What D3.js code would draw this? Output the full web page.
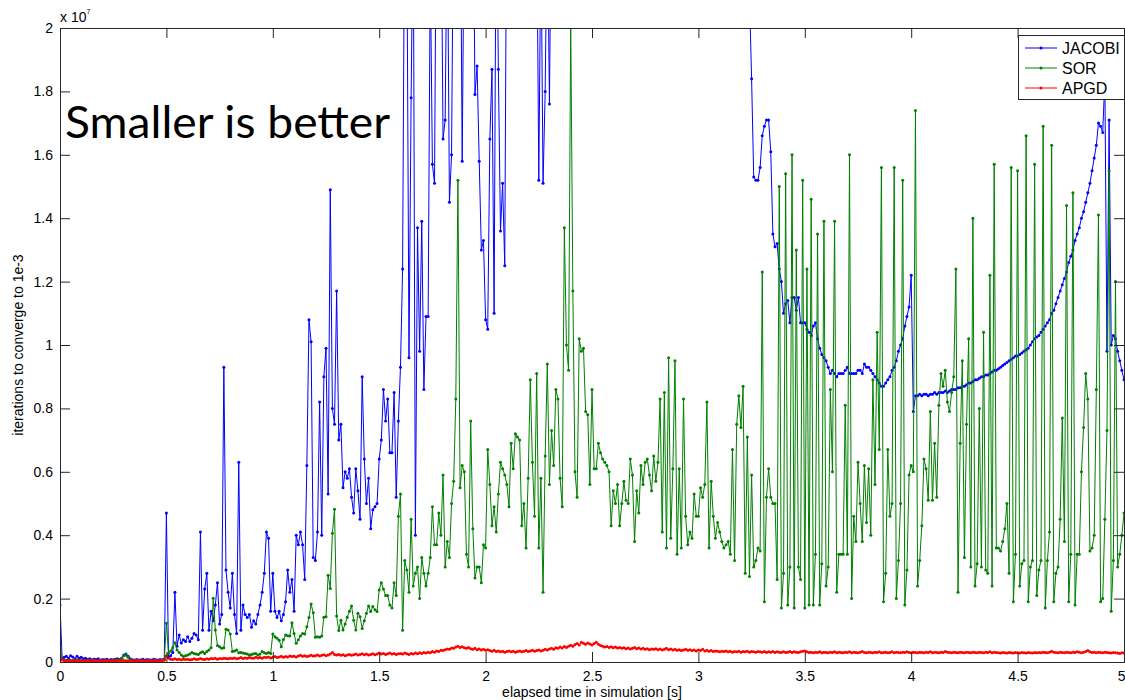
<!DOCTYPE html>
<html lang="en">
<head>
<meta charset="utf-8">
<script src="https://cdn.jsdelivr.net/npm/d3@7"></script>
<style>
  body { margin: 0; background: #fff; }
  svg { display: block; }
  .axis text { font-family: "Liberation Sans", Arial, sans-serif; font-size: 14px; fill: #000; }
  .axis path, .axis line { stroke: #262626; }
</style>
</head>
<body>
<div id="chart"></div>
<script>
// time step between samples (seconds), values in units of 1e-7
const dt = 0.01

const seriesNames = ['JACOBI', 'SOR', 'APGD']
const seriesColors = ['#0000ff', '#008000', '#ff0000']

const xTicks = [0, 0.5, 1, 1.5, 2, 2.5, 3, 3.5, 4, 4.5, 5]
const yTicks = [0, 0.2, 0.4, 0.6, 0.8, 1, 1.2, 1.4, 1.6, 1.8, 2]

const jacobi = [
  0.18, 0.01, 0.015, 0.018, 0.012, 0.02, 0.016, 0.01, 0.018, 0.012,
  0.015, 0.01, 0.012, 0.008, 0.01, 0.007, 0.009, 0.008, 0.01, 0.006,
  0.008, 0.007, 0.009, 0.006, 0.008, 0.007, 0.009, 0.01, 0.008, 0.012,
  0.022, 0.025, 0.018, 0.01, 0.007, 0.006, 0.008, 0.006, 0.007, 0.009,
  0.006, 0.008, 0.007, 0.006, 0.009, 0.007, 0.006, 0.008, 0.007, 0.009,
  0.47, 0.015, 0.02, 0.03, 0.22, 0.05, 0.085, 0.06, 0.07, 0.065,
  0.08, 0.065, 0.075, 0.09, 0.085, 0.07, 0.41, 0.10, 0.23, 0.28,
  0.10, 0.16, 0.13, 0.18, 0.25, 0.12, 0.15, 0.93, 0.29, 0.22,
  0.17, 0.28, 0.15, 0.09, 0.63, 0.10, 0.18, 0.15, 0.14, 0.15,
  0.11, 0.13, 0.12, 0.15, 0.18, 0.22, 0.28, 0.41, 0.39, 0.16,
  0.28, 0.16, 0.14, 0.16, 0.13, 0.15, 0.19, 0.29, 0.22, 0.26,
  0.16, 0.40, 0.37, 0.41, 0.37, 0.26, 0.62, 1.08, 1.01, 0.33,
  0.32, 0.41, 0.82, 0.40, 0.90, 0.99, 0.53, 1.49, 0.80, 0.75,
  1.17, 0.70, 0.75, 0.55, 0.60, 0.58, 0.61, 0.52, 0.47, 0.61,
  0.54, 0.45, 0.90, 0.64, 0.50, 0.58, 0.42, 0.48, 0.49, 0.50,
  0.64, 0.70, 0.86, 0.76, 0.83, 0.66, 0.66, 0.85, 0.52, 0.76,
  0.93, 1.24, 2.5, 2.3, 0.96, 1.78, 2.4, 0.40, 1.37, 0.98,
  1.39, 0.86, 1.09, 1.09, 2.2, 1.57, 1.51, 2.6, 2.3, 2.5,
  1.65, 1.71, 2.4, 1.45, 1.60, 2.5, 2.7, 2.3, 2.6, 1.58,
  2.4, 2.7, 2.5, 2.3, 2.6, 1.79, 1.88, 1.58, 1.30, 1.33,
  1.08, 1.05, 1.65, 1.87, 1.10, 2.5, 1.87, 1.36, 1.51, 1.25,
  2.6, 2.8, 2.5, 2.9, 2.7, 2.6, 2.8, 2.5, 2.7, 2.9,
  2.6, 2.8, 2.5, 2.7, 2.4, 1.52, 2.3, 1.51, 1.80, 2.4,
  1.76, 2.5, 2.8, 3.1, 3.0, 3.3, 3.5, 3.4, 3.6, 3.8,
  3.9, 4.1, 4.0, 4.3, 4.2, 4.4, 4.6, 4.5, 4.7, 4.8,
  4.9, 5.1, 5.0, 5.2, 5.3, 5.1, 5.4, 5.2, 5.5, 5.3,
  5.4, 5.6, 5.5, 5.3, 5.6, 5.4, 5.7, 5.5, 5.3, 5.6,
  5.4, 5.2, 5.5, 5.3, 5.1, 5.4, 5.2, 5.0, 5.3, 5.1,
  4.9, 5.0, 4.8, 4.7, 4.9, 4.6, 4.5, 4.7, 4.4, 4.3,
  4.5, 4.2, 4.1, 4.3, 4.0, 3.9, 4.1, 3.8, 3.7, 3.9,
  3.6, 3.5, 3.7, 3.4, 3.3, 3.5, 3.2, 3.1, 3.3, 3.0,
  3.1, 2.9, 3.0, 2.8, 2.9, 2.7, 2.8, 2.6, 2.7, 2.5,
  2.6, 2.4, 2.3, 2.2, 2.1, 1.84, 1.53, 1.52, 1.52, 1.56,
  1.66, 1.69, 1.71, 1.71, 1.61, 1.35, 1.31, 1.32, 1.24, 1.20,
  1.10, 1.13, 1.14, 1.07, 1.15, 1.15, 1.11, 1.15, 1.07, 1.07,
  1.07, 1.05, 1.04, 1.03, 1.06, 1.07, 1.02, 0.99, 0.97, 0.96,
  0.95, 0.93, 0.91, 0.92, 0.91, 0.90, 0.91, 0.91, 0.91, 0.92,
  0.93, 0.91, 0.91, 0.91, 0.91, 0.92, 0.92, 0.91, 0.94, 0.93,
  0.93, 0.92, 0.91, 0.90, 0.89, 0.88, 0.87, 0.87, 0.88, 0.89,
  0.90, 0.92, 0.93, 0.95, 0.98, 1.00, 1.02, 1.06, 1.09, 1.12,
  1.22, 0.79, 0.84, 0.84, 0.845, 0.84, 0.845, 0.845, 0.84, 0.845,
  0.845, 0.85, 0.845, 0.85, 0.85, 0.85, 0.855, 0.85, 0.855, 0.86,
  0.86, 0.86, 0.865, 0.865, 0.87, 0.87, 0.875, 0.88, 0.88, 0.885,
  0.89, 0.89, 0.895, 0.90, 0.90, 0.905, 0.905, 0.91, 0.915, 0.92,
  0.92, 0.925, 0.93, 0.935, 0.94, 0.945, 0.95, 0.955, 0.96, 0.965,
  0.965, 0.97, 0.975, 0.98, 0.985, 0.99, 1.0, 1.01, 1.02, 1.025,
  1.03, 1.04, 1.05, 1.06, 1.07, 1.08, 1.10, 1.11, 1.13, 1.15,
  1.17, 1.19, 1.21, 1.23, 1.26, 1.28, 1.30, 1.33, 1.35, 1.37,
  1.40, 1.42, 1.45, 1.48, 1.51, 1.55, 1.59, 1.63, 1.70, 1.69,
  1.67, 1.84, 0.98, 1.71, 1.00, 1.03, 1.02, 0.98, 0.95, 0.92,
  0.89
]

const sor = [
  0.05, 0.008, 0.006, 0.005, 0.006, 0.005, 0.004, 0.005, 0.006, 0.005,
  0.004, 0.005, 0.004, 0.005, 0.004, 0.004, 0.005, 0.004, 0.004, 0.005,
  0.004, 0.004, 0.005, 0.004, 0.004, 0.005, 0.004, 0.006, 0.008, 0.012,
  0.02, 0.022, 0.015, 0.006, 0.004, 0.004, 0.005, 0.004, 0.004, 0.005,
  0.004, 0.004, 0.005, 0.004, 0.004, 0.005, 0.004, 0.004, 0.005, 0.006,
  0.122, 0.027, 0.035, 0.045, 0.061, 0.038, 0.03, 0.022, 0.017, 0.02,
  0.022, 0.025, 0.03, 0.027, 0.025, 0.024, 0.029, 0.032, 0.027, 0.033,
  0.038, 0.045, 0.201, 0.101, 0.052, 0.048, 0.043, 0.045, 0.103, 0.101,
  0.088, 0.033, 0.035, 0.038, 0.029, 0.03, 0.028, 0.027, 0.025, 0.022,
  0.024, 0.026, 0.027, 0.022, 0.025, 0.033, 0.029, 0.027, 0.03, 0.027,
  0.088, 0.08, 0.075, 0.069, 0.048, 0.071, 0.085, 0.083, 0.082, 0.124,
  0.09, 0.059, 0.07, 0.082, 0.09, 0.088, 0.111, 0.14, 0.183, 0.155,
  0.078, 0.08, 0.078, 0.082, 0.141, 0.143, 0.274, 0.232, 0.406, 0.482,
  0.145, 0.099, 0.132, 0.101, 0.12, 0.141, 0.16, 0.177, 0.132, 0.101,
  0.154, 0.143, 0.106, 0.13, 0.154, 0.177, 0.159, 0.175, 0.165, 0.159,
  0.227, 0.25, 0.23, 0.21, 0.21, 0.18, 0.17, 0.25, 0.21, 0.46,
  0.53, 0.10, 0.32, 0.29, 0.22, 0.45, 0.24, 0.28, 0.30, 0.20,
  0.33, 0.28, 0.24, 0.28, 0.33, 0.49, 0.37, 0.37, 0.47, 0.40,
  0.59, 0.30, 0.38, 0.33, 0.50, 0.57, 0.83, 1.52, 0.55, 0.62,
  0.60, 0.34, 0.30, 0.76, 0.42, 0.265, 0.30, 0.30, 0.25, 0.37,
  0.36, 0.67, 0.56, 0.43, 0.49, 0.41, 0.53, 0.63, 0.61, 0.59,
  0.56, 0.49, 0.69, 0.61, 0.72, 0.71, 0.70, 0.43, 0.50, 0.36,
  0.58, 0.89, 0.63, 0.46, 0.91, 0.36, 0.58, 0.22, 0.65, 0.94,
  0.56, 0.73, 0.62, 0.86, 0.83, 0.58, 0.49, 1.37, 1.00, 0.92,
  2.02, 1.17, 0.60, 0.52, 1.02, 0.98, 0.99, 0.79, 0.78, 0.56,
  0.86, 0.61, 0.61, 0.69, 0.66, 0.64, 0.63, 0.62, 0.60, 0.43,
  0.54, 0.50, 0.56, 0.43, 0.50, 0.57, 0.51, 0.50, 0.64, 0.59,
  0.38, 0.54, 0.47, 0.62, 0.56, 0.63, 0.64, 0.59, 0.54, 0.65,
  0.57, 0.63, 0.83, 0.41, 0.85, 0.36, 0.96, 0.39, 0.61, 0.95,
  0.34, 0.61, 0.36, 0.83, 0.46, 0.37, 0.41, 0.39, 0.53, 0.46,
  0.46, 0.55, 0.52, 0.56, 0.82, 0.36, 0.57, 0.46, 0.39, 0.44,
  0.41, 0.38, 0.36, 0.37, 0.38, 0.34, 0.67, 0.32, 0.75, 0.84,
  0.74, 0.87, 0.28, 0.71, 0.27, 0.59, 0.30, 0.32, 0.36, 0.35,
  1.23, 0.19, 0.52, 0.61, 0.52, 0.50, 0.50, 0.26, 1.50, 0.17,
  0.28, 1.54, 0.18, 0.30, 1.60, 0.17, 1.30, 0.30, 0.26, 1.52,
  0.17, 1.24, 0.18, 1.46, 0.18, 0.34, 1.35, 0.18, 0.31, 1.39,
  0.24, 0.30, 0.86, 0.60, 1.39, 0.22, 0.34, 0.34, 0.34, 0.81,
  0.34, 1.60, 0.20, 0.46, 0.38, 0.63, 0.50, 0.38, 0.62, 0.44,
  0.61, 0.40, 0.89, 0.56, 1.04, 0.67, 1.56, 0.19, 0.28, 0.67,
  0.46, 0.50, 1.56, 0.20, 0.32, 0.50, 1.52, 0.18, 0.29, 0.59,
  0.62, 0.60, 1.74, 0.24, 0.32, 0.43, 0.64, 0.61, 0.51, 0.79,
  0.51, 0.69, 0.52, 0.81, 0.91, 0.87, 0.92, 0.82, 0.79, 0.85,
  0.90, 1.24, 0.22, 0.69, 0.95, 0.33, 0.75, 1.02, 0.30, 1.40,
  0.24, 0.31, 0.80, 0.30, 1.04, 0.29, 0.28, 1.22, 0.24, 1.57,
  0.36, 0.36, 0.35, 0.38, 0.42, 0.50, 0.28, 1.56, 0.19, 0.34,
  1.55, 0.24, 0.31, 0.32, 1.66, 0.19, 0.30, 0.32, 1.57, 0.21,
  0.29, 0.32, 1.69, 0.17, 0.32, 0.41, 1.63, 0.19, 0.28, 0.30,
  0.45, 0.77, 0.38, 1.44, 0.19, 0.34, 1.48, 0.18, 0.34, 0.34,
  0.60, 0.74, 0.91, 0.83, 0.35, 0.36, 0.40, 0.86, 1.41, 0.19,
  0.20, 0.45, 0.73, 1.55, 0.16, 0.32, 1.20, 0.30, 0.34, 0.40,
  0.47
]

const apgd = [
  0.012, 0.006, 0.005, 0.004, 0.005, 0.004, 0.005, 0.004, 0.004, 0.005,
  0.004, 0.005, 0.004, 0.004, 0.005, 0.004, 0.005, 0.004, 0.004, 0.005,
  0.004, 0.005, 0.004, 0.005, 0.004, 0.004, 0.005, 0.004, 0.005, 0.004,
  0.005, 0.004, 0.004, 0.005, 0.004, 0.005, 0.004, 0.004, 0.005, 0.004,
  0.004, 0.005, 0.004, 0.005, 0.004, 0.004, 0.005, 0.004, 0.005, 0.006,
  0.02, 0.012, 0.009, 0.008, 0.01, 0.008, 0.009, 0.007, 0.009, 0.008,
  0.009, 0.007, 0.008, 0.01, 0.008, 0.009, 0.011, 0.009, 0.008, 0.01,
  0.009, 0.011, 0.01, 0.012, 0.009, 0.011, 0.01, 0.012, 0.011, 0.01,
  0.012, 0.011, 0.013, 0.01, 0.012, 0.014, 0.011, 0.013, 0.012, 0.014,
  0.013, 0.012, 0.015, 0.013, 0.014, 0.012, 0.015, 0.014, 0.016, 0.013,
  0.015, 0.017, 0.014, 0.016, 0.018, 0.015, 0.017, 0.016, 0.019, 0.017,
  0.018, 0.016, 0.019, 0.021, 0.018, 0.02, 0.017, 0.019, 0.021, 0.019,
  0.02, 0.022, 0.019, 0.021, 0.023, 0.02, 0.022, 0.025, 0.03, 0.024,
  0.022, 0.024, 0.021, 0.023, 0.02, 0.022, 0.024, 0.021, 0.023, 0.025,
  0.022, 0.024, 0.026, 0.023, 0.025, 0.022, 0.024, 0.026, 0.023, 0.025,
  0.028, 0.025, 0.027, 0.024, 0.026, 0.028, 0.025, 0.027, 0.024, 0.026,
  0.027, 0.025, 0.028, 0.026, 0.024, 0.027, 0.025, 0.028, 0.026, 0.029,
  0.027, 0.03, 0.028, 0.031, 0.029, 0.033, 0.031, 0.035, 0.033, 0.037,
  0.036, 0.039, 0.041, 0.04, 0.044, 0.043, 0.047, 0.05, 0.046, 0.048,
  0.045, 0.043, 0.046, 0.042, 0.04, 0.043, 0.039, 0.041, 0.038, 0.04,
  0.037, 0.039, 0.036, 0.034, 0.037, 0.033, 0.035, 0.032, 0.034, 0.031,
  0.033, 0.035, 0.032, 0.034, 0.031, 0.033, 0.035, 0.032, 0.034, 0.036,
  0.033, 0.035, 0.037, 0.034, 0.036, 0.038, 0.035, 0.037, 0.04, 0.038,
  0.041, 0.043, 0.04, 0.045, 0.043, 0.047, 0.044, 0.049, 0.046, 0.05,
  0.053, 0.05, 0.055, 0.058, 0.054, 0.062, 0.059, 0.056, 0.06, 0.057,
  0.054, 0.058, 0.062, 0.056, 0.052, 0.05, 0.047, 0.049, 0.046, 0.048,
  0.045, 0.047, 0.044, 0.046, 0.043, 0.045, 0.042, 0.044, 0.041, 0.043,
  0.046, 0.042, 0.044, 0.041, 0.043, 0.04, 0.042, 0.039, 0.041, 0.04,
  0.042, 0.039, 0.041, 0.038, 0.04, 0.043, 0.039, 0.041, 0.038, 0.04,
  0.037, 0.039, 0.036, 0.038, 0.04, 0.037, 0.039, 0.036, 0.038, 0.035,
  0.038, 0.036, 0.04, 0.035, 0.037, 0.034, 0.036, 0.033, 0.035, 0.034,
  0.032, 0.034, 0.033, 0.035, 0.032, 0.034, 0.031, 0.033, 0.032, 0.034,
  0.031, 0.033, 0.032, 0.034, 0.031, 0.033, 0.032, 0.031, 0.033, 0.032,
  0.031, 0.033, 0.03, 0.032, 0.031, 0.033, 0.03, 0.032, 0.031, 0.03,
  0.032, 0.03, 0.031, 0.033, 0.03, 0.032, 0.031, 0.03, 0.032, 0.034,
  0.035, 0.032, 0.03, 0.031, 0.029, 0.031, 0.03, 0.032, 0.029, 0.031,
  0.03, 0.029, 0.031, 0.03, 0.032, 0.029, 0.031, 0.03, 0.029, 0.031,
  0.03, 0.032, 0.029, 0.031, 0.03, 0.029, 0.031, 0.033, 0.03, 0.029,
  0.031, 0.03, 0.029, 0.031, 0.03, 0.032, 0.029, 0.03, 0.031, 0.029,
  0.03, 0.032, 0.029, 0.031, 0.03, 0.029, 0.031, 0.03, 0.032, 0.03,
  0.029, 0.031, 0.03, 0.029, 0.031, 0.03, 0.029, 0.031, 0.03, 0.032,
  0.029, 0.031, 0.03, 0.029, 0.031, 0.03, 0.033, 0.031, 0.03, 0.029,
  0.031, 0.03, 0.029, 0.031, 0.03, 0.029, 0.031, 0.03, 0.029, 0.031,
  0.03, 0.029, 0.031, 0.03, 0.029, 0.031, 0.03, 0.032, 0.029, 0.031,
  0.03, 0.029, 0.028, 0.03, 0.029, 0.028, 0.03, 0.029, 0.028, 0.03,
  0.029, 0.028, 0.03, 0.029, 0.028, 0.03, 0.029, 0.028, 0.03, 0.029,
  0.03, 0.029, 0.031, 0.03, 0.029, 0.031, 0.034, 0.031, 0.03, 0.029,
  0.031, 0.03, 0.029, 0.031, 0.03, 0.029, 0.031, 0.03, 0.032, 0.031,
  0.029, 0.031, 0.033, 0.036, 0.032, 0.03, 0.031, 0.029, 0.031, 0.03,
  0.029, 0.031, 0.03, 0.029, 0.028, 0.03, 0.029, 0.028, 0.027, 0.029,
  0.028
]

const allSeries = [jacobi, sor, apgd]

const w = 1125
const h = 700
const padLeft = 60
const padRight = 1124
const padTop = 28
const padBottom = 662

let svg = d3.select('#chart')
          .append('svg')
          .attr('width', w)
          .attr('height', h)

svg.append('rect')
   .attr('width', w)
   .attr('height', h)
   .attr('fill', '#fff')

let scaleX = d3.scaleLinear()
               .domain([0, 5])
               .range([padLeft, padRight])

let scaleY = d3.scaleLinear()
               .domain([0, 2])
               .range([padBottom, padTop])

svg.append('clipPath')
   .attr('id', 'plotclip')
   .append('rect')
   .attr('x', padLeft)
   .attr('y', padTop)
   .attr('width', padRight - padLeft)
   .attr('height', padBottom - padTop)

let plot = svg.append('g').attr('clip-path', 'url(#plotclip)')

let line = d3.line()
             .x(function(d, i) { return scaleX(i * dt) })
             .y(function(d) { return scaleY(d) })

allSeries.forEach(function(values, k) {
   let g = plot.append('g')
   g.append('path')
    .datum(values)
    .attr('d', line)
    .attr('fill', 'none')
    .attr('stroke', seriesColors[k])
    .attr('stroke-width', 1)

   g.selectAll('circle')
    .data(values)
    .enter()
    .append('circle')
    .attr('cx', function(d, i) { return scaleX(i * dt) })
    .attr('cy', function(d) { return scaleY(d) })
    .attr('r', 1.5)
    .attr('fill', seriesColors[k])
})

// axes with inward ticks on all four sides
let xAxisG = svg.append('g')
   .attr('class', 'axis')
   .attr('transform', 'translate(0,' + padBottom + ')')
   .call(d3.axisBottom(scaleX).tickValues(xTicks).tickSize(-10).tickSizeOuter(0).tickPadding(9)
          .tickFormat(function(d) { return d }))

// the last label sits on the window edge; keep it inside
xAxisG.selectAll('.tick text')
      .filter(function(d) { return d === 5 })
      .attr('text-anchor', 'end')
      .attr('dx', 1)

svg.append('g')
   .attr('class', 'axis')
   .attr('transform', 'translate(' + padLeft + ',0)')
   .call(d3.axisLeft(scaleY).tickValues(yTicks).tickSize(-10).tickSizeOuter(0).tickPadding(7)
          .tickFormat(function(d) { return d }))

svg.append('g')
   .attr('class', 'axis')
   .attr('transform', 'translate(0,' + padTop + ')')
   .call(d3.axisTop(scaleX).tickValues(xTicks).tickSize(-10).tickSizeOuter(0).tickFormat(''))

svg.append('g')
   .attr('class', 'axis')
   .attr('transform', 'translate(' + padRight + ',0)')
   .call(d3.axisRight(scaleY).tickValues(yTicks).tickSize(-10).tickSizeOuter(0).tickFormat(''))

svg.selectAll('.axis path').attr('shape-rendering', 'crispEdges')

// exponent
let expo = svg.append('text')
   .attr('x', 60)
   .attr('y', 22)
   .attr('font-family', '"Liberation Sans", Arial, sans-serif')
   .attr('font-size', 14)
   .text('x 10')
expo.append('tspan')
   .attr('dy', -8)
   .attr('font-size', 7)
   .text('7')

// axis titles
svg.append('text')
   .attr('x', (padLeft + padRight) / 2)
   .attr('y', 697)
   .attr('text-anchor', 'middle')
   .attr('font-family', '"Liberation Sans", Arial, sans-serif')
   .attr('font-size', 14)
   .text('elapsed time in simulation [s]')

svg.append('text')
   .attr('transform', 'translate(23,' + ((padTop + padBottom) / 2) + ') rotate(-90)')
   .attr('text-anchor', 'middle')
   .attr('font-family', '"Liberation Sans", Arial, sans-serif')
   .attr('font-size', 14)
   .text('iterations to converge to 1e-3')

// annotation
svg.append('text')
   .attr('x', 65)
   .attr('y', 138)
   .attr('font-family', 'Lato, "Open Sans", sans-serif')
   .attr('font-size', 44)
   .attr('textLength', 325)
   .attr('lengthAdjust', 'spacingAndGlyphs')
   .text('Smaller is better')

// legend
let legend = svg.append('g').attr('transform', 'translate(1018,35)')
legend.append('rect')
      .attr('width', 106)
      .attr('height', 64)
      .attr('fill', '#fff')
      .attr('stroke', '#262626')
      .attr('shape-rendering', 'crispEdges')

seriesNames.forEach(function(name, k) {
   let y = 13 + k * 20
   legend.append('line')
         .attr('x1', 7).attr('x2', 39)
         .attr('y1', y).attr('y2', y)
         .attr('stroke', seriesColors[k])
   legend.append('circle')
         .attr('cx', 23).attr('cy', y).attr('r', 1.5)
         .attr('fill', seriesColors[k])
   legend.append('text')
         .attr('x', 44)
         .attr('y', y + 6)
         .attr('font-family', '"Liberation Sans", Arial, sans-serif')
         .attr('font-size', 16)
         .text(name)
})
</script>
</body>
</html>
